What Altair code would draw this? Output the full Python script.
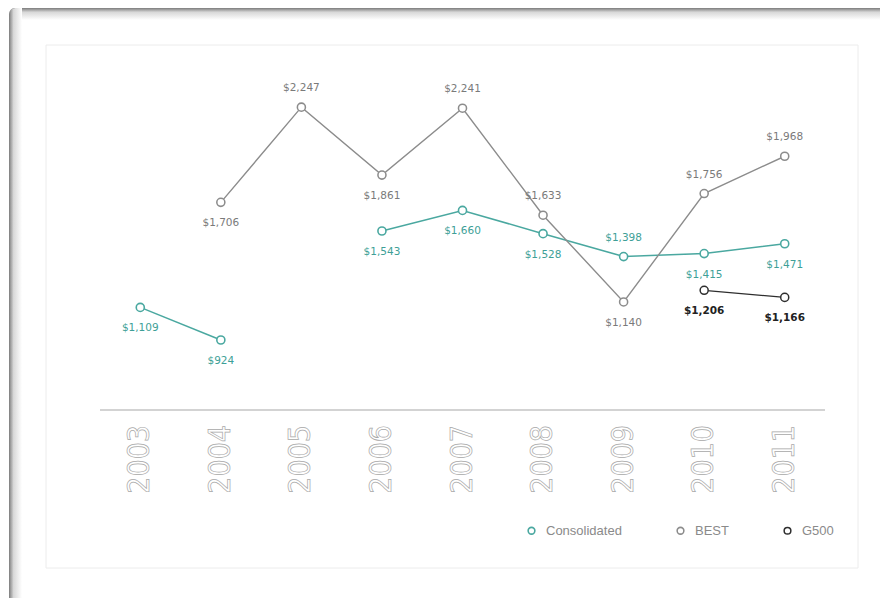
import altair as alt
import pandas as pd

# ---- data -------------------------------------------------------------
years = ["2003", "2004", "2005", "2006", "2007", "2008", "2009", "2010", "2011"]
series_names = ["Consolidated", "BEST", "G500"]

consolidated = [1109, 924, None, 1543, 1660, 1528, 1398, 1415, 1471]
best = [None, 1706, 2247, 1861, 2241, 1633, 1140, 1756, 1968]
g500 = [None, None, None, None, None, None, None, 1206, 1166]

# where each value label sits relative to its point
consolidated_label_side = ["below", "below", None, "below", "below", "below", "above", "below", "below"]
best_label_side = [None, "below", "above", "below", "above", "above", "below", "above", "above"]
g500_label_side = [None, None, None, None, None, None, None, "below", "below"]

# ---- styling ----------------------------------------------------------
line_colors = ["#4aa8a0", "#8c8c8c", "#2e2e2e"]
text_colors = ["#3e9f97", "#7a7a7a", "#222222"]
COND_FONT = "Liberation Sans Narrow, DejaVu Sans Condensed, Roboto Condensed, Liberation Sans, sans-serif"
LABEL_FONT = "DejaVu Sans, Liberation Sans, sans-serif"
W, H = 725, 350

# ---- long table -------------------------------------------------------
rows = []
for name, vals, sides in [("Consolidated", consolidated, consolidated_label_side),
                          ("BEST", best, best_label_side),
                          ("G500", g500, g500_label_side)]:
    seg = 0
    prev_missing = True
    for yr, v, side in zip(years, vals, sides):
        if v is None:
            prev_missing = True
            continue
        if prev_missing:
            seg += 1
        prev_missing = False
        rows.append({"series": name, "year": yr, "value": v,
                     "label": f"${v:,}", "side": side,
                     "segment": f"{name}-{seg}"})
df = pd.DataFrame(rows)
years_df = pd.DataFrame({"year": years})
one = pd.DataFrame({"k": [0]})

x_enc = alt.X("year:O", scale=alt.Scale(domain=years, type="point", padding=0.5), axis=None)
y_enc = alt.Y("value:Q", scale=alt.Scale(domain=[526, 2515], zero=False, nice=False), axis=None)
fill_scale = alt.Scale(domain=series_names, range=text_colors)


def stroke_scale():
    return alt.Scale(domain=series_names, range=line_colors)


legend = alt.Legend(
    title=None, orient="none", direction="horizontal",
    legendX=425, legendY=464, padding=0,
    symbolType="circle", symbolSize=45, symbolStrokeWidth=1.6,
    symbolFillColor="white",
    labelFont="Liberation Sans, sans-serif", labelFontSize=13,
    labelColor="#8a8a8a", labelOffset=8, columnPadding=52)

# ---- page decoration: framed panel and inner card ---------------------
def shade(x1, x2, y1, y2):
    return alt.LinearGradient(
        gradient="linear", x1=x1, x2=x2, y1=y1, y2=y2,
        stops=[alt.GradientStop(color="#7c7c7c", offset=0),
               alt.GradientStop(color="#d8d8d8", offset=0.35),
               alt.GradientStop(color="#ffffff", offset=1)])

frame_top = alt.Chart(one).mark_rect(fill=shade(0, 0, 0, 1), cornerRadiusTopLeft=7).encode(
    x=alt.value(-91), x2=alt.value(800), y=alt.value(-52), y2=alt.value(-40))
frame_left = alt.Chart(one).mark_rect(fill=shade(0, 1, 0, 0), cornerRadiusTopLeft=7).encode(
    x=alt.value(-91), x2=alt.value(-78), y=alt.value(-52), y2=alt.value(560))
card = alt.Chart(one).mark_rect(fill="white", stroke="#ececec", strokeWidth=1).encode(
    x=alt.value(-54), x2=alt.value(758), y=alt.value(-15), y2=alt.value(508))

baseline = alt.Chart(one).mark_rule(color="#c4c4c4", strokeWidth=1.3).encode(
    x=alt.value(0), x2=alt.value(W), y=alt.value(H))

year_labels = alt.Chart(years_df).mark_text(
    angle=270, align="right", baseline="middle", font=COND_FONT, fontSize=30,
    fill="white", stroke="#a8a8a8", strokeWidth=0.7).encode(
    x=x_enc, y=alt.value(H + 15), text="year:N")

# ---- series -----------------------------------------------------------
lines = alt.Chart(df).mark_line().encode(
    x=x_enc, y=y_enc,
    stroke=alt.Stroke("series:N", scale=stroke_scale(), legend=None),
    strokeWidth=alt.StrokeWidth("series:N", scale=alt.Scale(domain=series_names, range=[1.5, 1.3, 1.5]), legend=None),
    detail="segment:N")

points = alt.Chart(df).mark_point(shape="circle", filled=False, fill="white", size=65, opacity=1).encode(
    x=x_enc, y=y_enc,
    stroke=alt.Stroke("series:N", scale=stroke_scale(), legend=legend),
    strokeWidth=alt.StrokeWidth("series:N", scale=alt.Scale(domain=series_names, range=[1.6, 1.5, 2.0]), legend=None))


def value_labels(side, bold):
    cond = f"datum.side == '{side}' && " + ("datum.series == 'G500'" if bold else "datum.series != 'G500'")
    return alt.Chart(df).transform_filter(cond).mark_text(
        font=LABEL_FONT, fontSize=10.5, baseline="middle",
        fontWeight="bold" if bold else "normal",
        dy=-19 if side == "above" else 21).encode(
        x=x_enc, y=y_enc, text="label:N",
        fill=alt.Fill("series:N", scale=fill_scale, legend=None))


chart = alt.layer(
    frame_top, frame_left, card, baseline, year_labels,
    lines, points,
    value_labels("above", False), value_labels("below", False),
    value_labels("above", True), value_labels("below", True),
).resolve_scale(
    stroke="independent", strokeWidth="independent"
).properties(
    width=W, height=H,
    padding={"left": 100, "top": 60, "right": 55, "bottom": 188},
    autosize=alt.AutoSizeParams(type="none"),
    background="white",
).configure_view(stroke=None)

chart.save("out.html", embed_options={"renderer": "svg", "actions": False})
